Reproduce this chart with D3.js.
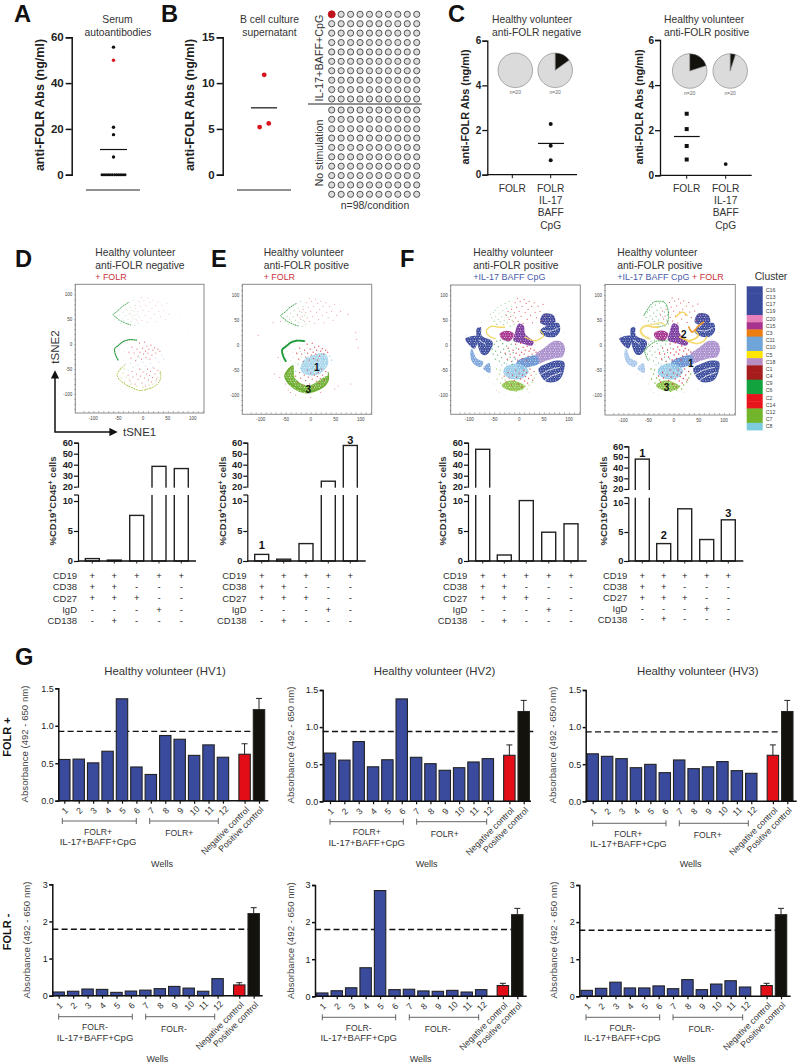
<!DOCTYPE html>
<meta charset="utf-8">
<head>
<style>
  body { margin: 0; background: #fff; }
  svg { display: block; font-family: "Liberation Sans", Arial, sans-serif; }
</style>
<script src="https://d3js.org/d3.v7.min.js"></script>
</head>
<body>
<div id="figure"></div>
<script>
// ---------- values ----------

// A
var serumBlack = [[0, 55.7], [0, 20.7], [0, 17.5], [0, 7.7]];
var serumRed = [[0, 50]];
var serumZeros = [-1, -0.82, -0.64, -0.46, -0.28, -0.1, 0.1, 0.28, 0.46, 0.64, 0.82, 1];
var serumMean = 11;

// B
var cultureRed = [[0, 10.9], [0.35, 5.6], [-0.35, 5.2]];
var cultureMean = 7.3;

// C
var negFolrStim = [2.27, 1.3, 0.65];
var negMean = 1.4;
var posFolr = [2.73, 2.05, 1.3, 0.7];
var posMean = 1.72;
var posFolrStim = [0.5];
var pieNegA = [0, 20], pieNegB = [3, 17], piePosA = [4, 16], piePosB = [1, 19];

// D-F bars
var barsD = [0.4, 0.15, 7.6, 38.5, 36.5];
var barsE = [1.1, 0.3, 2.9, 25, 57.5];
var barsF1 = [54, 1.0, 10.3, 4.8, 6.2];
var barsF2 = [48, 3, 9, 3.7, 7.1];
var markerNames = ["CD19", "CD38", "CD27", "IgD", "CD138"];
var markerRows = [
  ["+", "+", "+", "+", "+"],
  ["+", "+", "-", "-", "-"],
  ["+", "+", "+", "-", "-"],
  ["-", "-", "-", "+", "-"],
  ["-", "+", "-", "-", "-"]
];

// cluster legend
var clusterNames = ["C16","C13","C17","C19","C20","C15","C3","C11","C10","C5","C18","C1","C4","C9","C6","C2","C14","C12","C7","C8"];
var clusterColors = ["#3a4a9c","#3a4a9c","#3a4a9c","#3a4a9c","#e77fb8","#a8338f","#ee7d11","#6fa5d8","#6fa5d8","#ffe600","#b58fc4","#a61c1c","#a61c1c","#13a33e","#13a33e","#e8141c","#e8141c","#72b52b","#72b52b","#7ccbdf"];

// tSNE regions, traced by eye (tSNE1, tSNE2)
var navyLeaf = [[-108,13],[-82,18],[-84,4],[-90,-7]];
var navyLeft = [[-85,33],[-77,36],[-75,19],[-55,9],[-53,1],[-65,-19],[-74,-19],[-82,-4],[-85,16]];
var paleStrip = [[-95,-7],[-85,-27],[-72,-34],[-77,-44],[-92,-37],[-98,-21]];
var paleWedge = [[-60,-36],[-58,-56],[-72,-47]];
var navyTopA = [[49,63],[69,60],[72,43],[56,39],[42,46]];
var navyTopB = [[45,33],[62,41],[79,44],[82,29],[72,17],[55,17],[42,26]];
var navyLow = [[39,-47],[56,-37],[76,-31],[90,-34],[89,-54],[79,-71],[56,-74],[45,-64]];
var purpleMid = [[-1,43],[9,39],[12,23],[29,6],[25,-1],[5,4],[-11,9],[-8,26]];
var magentaLeft = [[-39,23],[-25,29],[-11,23],[-19,8],[-35,13]];
var purpleRight = [[32,-21],[52,-4],[69,8],[86,6],[92,-7],[86,-24],[69,-27],[52,-32],[39,-37]];
var blueBand = [[-5,-34],[15,-24],[34,-21],[39,-37],[19,-44],[-1,-47]];
var skyCentre = [[-28,-44],[-1,-37],[19,-52],[5,-67],[-18,-67],[-31,-57]];
var limeBottom = [[-35,-81],[-18,-71],[5,-77],[12,-84],[-5,-92],[-25,-89]];
var skyE = [[-18,-37],[-5,-24],[29,-17],[35,-37],[19,-57],[-1,-61],[-18,-54]];
var limeE = [[-45,-47],[-35,-41],[-31,-67],[-5,-81],[35,-61],[29,-81],[-5,-97],[-35,-87],[-51,-67]];

// arcs drawn as dotted strands
var greenTopArc = [[-30,83],[-42,75],[-53,65],[-60,59],[-52,52],[-47,48],[-35,42],[-23,38]];
var greenTopRing = [[-59,59],[-39,86],[-16,83],[-13,43],[-32,36]];
var greenMidArc = [[-13,8],[-27,9],[-40,5],[-50,-3],[-57,-9],[-55,-22],[-50,-32]];
var limeLowArc = [[-37,-42],[-47,-52],[-52,-62],[-45,-74],[-33,-82],[-20,-88],[-7,-93],[10,-90],[27,-82],[35,-70],[35,-55]];
var yellowArcL = [[-48,13],[-61,19],[-66,29],[-55,38],[-41,36],[-28,36]];
var yellowArcL2 = [[-52,13],[-64,26],[-62,36],[-42,41],[-24,44],[-16,39]];
var yellowArcM = [[12,16],[32,9],[49,19],[42,29]];
var yellowRing = [[27,8],[47,3],[60,8],[66,16]];
var yellowTop = [[4,56],[17,66],[27,59]];
var orangeArc = [[30,36],[37,26],[50,39],[60,46]];
// pale channels through the dense regions
var channelLowA = [[42,-60],[60,-50],[80,-45]];
var channelLowB = [[50,-72],[65,-62],[85,-55]];
var channelTop = [[48,30],[62,28],[78,34]];
var channelLeft = [[-80,10],[-68,2]];

// sparse event clouds
var cloudTopGreen = [[-58,62],[-55,55],[-52,66],[-50,48],[-48,70],[-47,58],[-45,42],[-43,76],[-42,52],[-40,64],[-38,47],[-36,80],[-35,57],[-33,70],[-31,41],[-30,50],[-28,84],[-27,62],[-25,74],[-24,45],[-22,56],[-20,88],[-18,66],[-17,38],[-15,78],[-14,50],[-12,60],[-10,42]];
var cloudTopRed = [[-26,60],[-22,68],[-20,52],[-17,58],[-15,72],[-12,47],[-10,65],[-8,85],[-7,55],[-5,76],[-3,94],[-2,48],[0,68],[2,88],[4,58],[6,78],[8,44],[10,92],[12,66],[14,84],[16,52],[18,72],[20,88],[23,60],[25,78],[27,45],[30,85],[32,66],[35,55],[38,78],[42,68],[45,50],[48,82],[52,60]];
var cloudMidGreen = [[-54,-8],[-52,-18],[-50,2],[-48,-28],[-47,-12],[-45,8],[-43,-20],[-42,-3],[-40,-32],[-38,10],[-37,-14],[-35,-25],[-33,3],[-31,-8],[-30,-36],[-28,12],[-27,-19],[-25,-2],[-23,-30],[-22,8],[-20,-12],[-18,-24],[-16,2],[-14,-38],[-12,-15],[-10,10],[-8,-28],[-6,-6]];
var cloudMidRed = [[-28,-16],[-24,-28],[-22,-6],[-18,-18],[-15,-33],[-12,-10],[-10,-24],[-7,2],[-6,-16],[-3,-30],[-1,-8],[1,-20],[3,4],[5,-14],[6,-27],[8,-4],[10,-18],[12,-10],[14,-30],[16,-2],[18,-22],[20,-12],[23,-7],[26,-18],[30,-10],[34,-14]];
var cloudLowRed = [[-30,-62],[-26,-74],[-22,-55],[-20,-66],[-16,-80],[-13,-60],[-10,-71],[-7,-50],[-5,-64],[-2,-78],[0,-56],[3,-68],[5,-84],[7,-60],[9,-50],[11,-72],[13,-63],[15,-55],[17,-76],[19,-67],[22,-48],[24,-60],[27,-70],[30,-53]];
var cloudLowLime = [[-45,-48],[-40,-58],[-44,-68],[-37,-76],[-34,-66],[-30,-84],[-28,-70],[-24,-80],[-18,-90],[-12,-84],[-6,-93],[0,-86],[6,-90],[12,-82],[20,-80],[26,-74],[30,-66],[34,-58],[-38,-50],[16,-88]];
var cloudSky = [[-35,-40],[-30,-52],[-25,-38],[-20,-46],[-14,-32],[-10,-42],[-5,-50],[0,-36],[5,-44],[10,-30],[14,-38],[20,-46],[26,-28],[32,-36],[38,-22],[42,-30],[-8,-26]];
var cloudFar = [[-105,20],[-72,-58],[-62,-65],[-50,-78],[-45,-90],[-65,-25],[55,-82],[48,-88],[95,-5],[92,12],[80,-78],[60,68],[75,62],[90,25],[-30,-100],[0,-105],[-75,45],[-60,48],[-40,-95],[20,-95]];

var tsne1Ticks = [-100, -50, 0, 50, 100], tsne2Ticks = [100, 50, 0, -50, -100];
var tsneTickLabels = ["-100", "-50", "0", "50", "100"];

// G wells
var wellPositions = [1,2,3,4,5,6,7,8,9,10,11,12,13.5,14.5];
var wellLabels = ["1","2","3","4","5","6","7","8","9","10","11","12","Negative control","Positive control"];
var hv1Plus = [0.55,0.555,0.505,0.66,1.36,0.45,0.35,0.87,0.82,0.605,0.745,0.58,0.62,1.215];
var hv2Plus = [0.65,0.555,0.805,0.465,0.56,1.38,0.593,0.507,0.418,0.453,0.53,0.575,0.62,1.21];
var hv3Plus = [0.64,0.606,0.575,0.453,0.498,0.386,0.557,0.44,0.465,0.535,0.413,0.377,0.62,1.21];
var hv1Minus = [0.1,0.12,0.18,0.17,0.09,0.125,0.15,0.19,0.25,0.205,0.12,0.46,0.29,2.21];
var hv2Minus = [0.09,0.15,0.23,0.77,2.85,0.18,0.19,0.145,0.135,0.16,0.115,0.18,0.29,2.2];
var hv3Minus = [0.16,0.215,0.38,0.225,0.225,0.28,0.205,0.45,0.18,0.33,0.42,0.25,0.29,2.2];
var plusErrorTops = [1.365, 1.36, 1.36], minusErrorTops = [2.37, 2.37, 2.37];
var plusNegErrors = [0.76, 0.76, 0.76], minusNegErrors = [0.35, 0.35, 0.35];
var plusCutoffs = [0.925, 0.94, 0.935], minusCutoffs = [1.79, 1.8, 1.78];

// ---------- page ----------
var svg = d3.select("#figure").append("svg").attr("width", 798).attr("height", 1064);
var textColor = "#333";

var defs = svg.append("defs");
var speckle = defs.append("pattern").attr("id", "speckle").attr("width", 5).attr("height", 5)
  .attr("patternUnits", "userSpaceOnUse");
[[0.7,0.8,0.5],[3.1,0.5,0.42],[1.9,2.2,0.46],[4.3,2.6,0.5],[0.6,3.9,0.42],[3,4.1,0.46]].forEach(function(d) {
  speckle.append("circle").attr("cx", d[0]).attr("cy", d[1]).attr("r", d[2]).attr("fill", "#fff");
});

function label(x, y, txt, size, opts) {
  opts = opts || {};
  var t = svg.append("text").attr("x", x).attr("y", y).text(txt)
    .style("font-size", size + "px")
    .style("fill", opts.color || textColor)
    .style("font-weight", opts.bold ? "bold" : "normal")
    .style("text-anchor", opts.anchor || "start");
  if (opts.rotate) t.attr("transform", "rotate(" + opts.rotate + "," + x + "," + y + ")");
  return t;
}

function styleAxis(g, width, size, bold) {
  g.selectAll("path,line").attr("stroke", "#111").attr("stroke-width", width);
  g.selectAll("text").style("font-size", size + "px").style("fill", "#222")
    .style("font-family", "'Liberation Sans', Arial, sans-serif")
    .style("font-weight", bold ? "bold" : "normal");
}

[["A",14,21.5],["B",161,21.5],["C",448,21.5],["D",15,267],["E",211,267],["F",400,267],["G",15,665]].forEach(function(d) {
  label(d[1], d[2], d[0], 23.7, {bold: true, color: "#111"});
});

// ---------- A, B dot plots ----------
function dotPanel(axisX, domainMax, ticks, baseX0, baseX1, cx, spread, meanX0, meanX1, mean) {
  var y = d3.scaleLinear().domain([0, domainMax]).range([174.7, 37.3]);
  var x = d3.scaleLinear().domain([-1, 1]).range([cx - spread, cx + spread]);
  var g = svg.append("g").attr("transform", "translate(" + axisX + ",0)")
    .call(d3.axisLeft(y).tickValues(ticks).tickFormat(d3.format("d")).tickSizeOuter(0).tickSize(6).tickPadding(2));
  styleAxis(g, 1.5, 11.5, true);
  svg.append("line").attr("x1", baseX0).attr("x2", baseX1).attr("y1", 190).attr("y2", 190).attr("stroke", "#222").attr("stroke-width", 1.2);
  svg.append("line").attr("x1", meanX0).attr("x2", meanX1).attr("y1", y(mean)).attr("y2", y(mean)).attr("stroke", "#111").attr("stroke-width", 1.2);
  return {x: x, y: y};
}

function dots(scales, data, color, r) {
  svg.append("g").selectAll("circle").data(data).enter().append("circle")
    .attr("cx", function(d) { return scales.x(d[0]); })
    .attr("cy", function(d) { return scales.y(d[1]); })
    .attr("r", r).attr("fill", color);
}

var aScales = dotPanel(71.7, 60, [0, 20, 40, 60], 86, 140, 113.5, 11.5, 100, 127, serumMean);
dots(aScales, serumBlack, "#111", 1.7);
dots(aScales, serumRed, "#d8141c", 1.7);
dots(aScales, serumZeros.map(function(d) { return [d, 0]; }), "#111", 1.5);
label(117.5, 22.5, "Serum", 10.3, {anchor: "middle"});
label(118, 35.5, "autoantibodies", 10.3, {anchor: "middle"});
label(43.5, 105, "anti-FOLR Abs (ng/ml)", 12.5, {bold: true, color: "#222", anchor: "middle", rotate: -90});

var bScales = dotPanel(222.7, 15, [0, 5, 10, 15], 237, 291, 264.2, 13, 251, 277, cultureMean);
dots(bScales, cultureRed, "#d8141c", 2.4);
label(269.5, 22.5, "B cell culture", 10.3, {anchor: "middle"});
label(269.5, 35.5, "supernatant", 10.3, {anchor: "middle"});
label(194, 105, "anti-FOLR Abs (ng/ml)", 12.5, {bold: true, color: "#222", anchor: "middle", rotate: -90});

// circle grid
var gridX = d3.scalePoint().domain(d3.range(10)).range([331.7, 416.7]);
var gridTop = d3.scalePoint().domain(d3.range(10)).range([14.3, 99]);
var gridLow = d3.scalePoint().domain(d3.range(10)).range([110, 194.3]);
[gridTop, gridLow].forEach(function(rowScale, block) {
  d3.range(10).forEach(function(r) {
    d3.range(10).forEach(function(c) {
      var hit = block === 0 && r === 0 && c === 0;
      svg.append("circle").attr("cx", gridX(c)).attr("cy", rowScale(r))
        .attr("r", hit ? 3.5 : 3.1)
        .attr("fill", hit ? "#c0141c" : "#dcdcdc")
        .attr("stroke", hit ? "#c0141c" : "#444").attr("stroke-width", 0.9);
    });
  });
});
svg.append("line").attr("x1", 308).attr("x2", 421.7).attr("y1", 104).attr("y2", 104).attr("stroke", "#222").attr("stroke-width", 1);
label(323, 58, "IL-17+BAFF+CpG", 10.8, {anchor: "middle", rotate: -90});
label(323, 153, "No stimulation", 10.5, {anchor: "middle", rotate: -90});
label(375, 209, "n=98/condition", 10.5, {anchor: "middle"});

// ---------- C ----------
function cPanel(axisX, xEnd, y6, y0, tick1, tick2, titleX, line2, yLabelX, pieA, pieB, pieY) {
  var y = d3.scaleLinear().domain([0, 6]).range([y0, y6]);
  var g = svg.append("g").attr("transform", "translate(" + axisX + ",0)")
    .call(d3.axisLeft(y).tickValues([0, 2, 4, 6]).tickFormat(d3.format("d")).tickSizeOuter(0).tickSize(5).tickPadding(1));
  styleAxis(g, 1.3, 10, true);
  svg.append("line").attr("x1", axisX).attr("x2", xEnd).attr("y1", y0).attr("y2", y0).attr("stroke", "#111").attr("stroke-width", 1.3);
  [tick1, tick2].forEach(function(t) {
    svg.append("line").attr("x1", t).attr("x2", t).attr("y1", y0).attr("y2", y0 + 3.5).attr("stroke", "#111").attr("stroke-width", 1);
  });
  label(titleX, 22.5, "Healthy volunteer", 10.3);
  label(titleX, 35.5, line2, 10.3);
  label(yLabelX, 107, "anti-FOLR Abs (ng/ml)", 10.9, {bold: true, color: "#222", anchor: "middle", rotate: -90});
  label(tick1, 192, "FOLR", 10.2, {anchor: "middle"});
  ["FOLR", "IL-17", "BAFF", "CpG"].forEach(function(s, i) {
    label(tick2, 192 + i * 12.2, s, 10.2, {anchor: "middle"});
  });
  var pie = d3.pie().sort(null);
  var arc = d3.arc().innerRadius(0).outerRadius(17.3);
  [[pieA, tick1 + 3], [pieB, tick2 + 4.5]].forEach(function(p) {
    var pg = svg.append("g").attr("transform", "translate(" + p[1] + "," + pieY + ")");
    pg.selectAll("path").data(pie(p[0])).enter().append("path").attr("d", arc)
      .attr("fill", function(d, i) { return i === 0 ? "#14120c" : "#dbdbdb"; })
      .attr("stroke", "#666").attr("stroke-width", 0.5);
    label(p[1], pieY + 24, "n=20", 5, {anchor: "middle", color: "#666"});
  });
  return y;
}

var c1 = cPanel(487.3, 577, 40.7, 174.7, 512.3, 550.7, 492, "anti-FOLR negative", 468.5, pieNegA, pieNegB, 70.3);
svg.append("g").selectAll("circle").data(negFolrStim).enter().append("circle")
  .attr("cx", 550.7).attr("cy", function(d) { return c1(d); }).attr("r", 2).attr("fill", "#111");
svg.append("line").attr("x1", 538).attr("x2", 564).attr("y1", c1(negMean)).attr("y2", c1(negMean)).attr("stroke", "#111").attr("stroke-width", 1.2);

var c2 = cPanel(660, 751.7, 40, 175.3, 686.7, 725.7, 664, "anti-FOLR positive", 642.5, piePosA, piePosB, 71);
svg.append("g").selectAll("rect").data(posFolr).enter().append("rect")
  .attr("x", 684.7).attr("width", 4).attr("height", 4)
  .attr("y", function(d) { return c2(d) - 2; }).attr("fill", "#111");
svg.append("g").selectAll("circle").data(posFolrStim).enter().append("circle")
  .attr("cx", 725.7).attr("cy", function(d) { return c2(d); }).attr("r", 1.9).attr("fill", "#111");
svg.append("line").attr("x1", 674).attr("x2", 699.7).attr("y1", c2(posMean)).attr("y2", c2(posMean)).attr("stroke", "#111").attr("stroke-width", 1.2);

// ---------- tSNE maps ----------
var lineGen = d3.line().curve(d3.curveCatmullRom);
var closedGen = d3.line().curve(d3.curveCatmullRomClosed);

function tsnePanel(box, xs, ys, layers, marks) {
  var x = d3.scaleLinear().domain([-100, 100]).range(xs);
  var y = d3.scaleLinear().domain([100, -100]).range(ys);
  var toPx = function(p) { return [x(p[0]), y(p[1])]; };
  var g = svg.append("g");
  (layers.blobs || []).forEach(function(b) {
    var d = closedGen(b[0].map(toPx));
    g.append("path").attr("d", d).attr("fill", b[1]).attr("opacity", b[2] || 1);
    g.append("path").attr("d", d).attr("fill", "url(#speckle)");
  });
  (layers.clouds || []).forEach(function(c) {
    g.append("g").selectAll("circle").data(c[0]).enter().append("circle")
      .attr("cx", function(d) { return x(d[0]); })
      .attr("cy", function(d) { return y(d[1]); })
      .attr("r", c[2]).attr("fill", c[1]).attr("opacity", c[3] || 1);
  });
  (layers.strands || []).forEach(function(t) {
    g.append("path").attr("d", lineGen(t[0].map(toPx))).attr("fill", "none")
      .attr("stroke", t[1]).attr("stroke-width", t[2])
      .attr("stroke-dasharray", t[3]).attr("stroke-linecap", "round");
  });
  svg.append("rect").attr("x", box[0]).attr("y", box[1]).attr("width", box[2] - box[0]).attr("height", box[3] - box[1])
    .attr("fill", "none").attr("stroke", "#8a8a8a").attr("stroke-width", 1);
  var xa = svg.append("g").attr("transform", "translate(0," + (box[3] - 0.5) + ")")
    .call(d3.axisTop(x).tickValues(d3.range(-120, 121, 10)).tickSize(1.5).tickFormat(""));
  xa.select(".domain").remove();
  xa.selectAll("line").attr("stroke", "#666").attr("stroke-width", 0.5);
  var ya = svg.append("g").attr("transform", "translate(" + (box[0] + 0.5) + ",0)")
    .call(d3.axisLeft(y).tickValues(d3.range(-130, 121, 10)).tickSize(1.5).tickFormat(""));
  ya.select(".domain").remove();
  ya.selectAll("line").attr("stroke", "#666").attr("stroke-width", 0.5);
  tsne1Ticks.forEach(function(v, i) {
    label(x(v), box[3] + 7, tsneTickLabels[i], 4.5, {anchor: "middle", color: "#444"});
  });
  tsne2Ticks.forEach(function(v, i) {
    label(box[0] - 3, y(v) + 1.5, tsneTickLabels[4 - i], 4.5, {anchor: "end", color: "#444"});
  });
  (marks || []).forEach(function(m) {
    label(x(m[1]), y(m[2]) + 3.5, m[0], 10, {bold: true, color: "#111", anchor: "middle"});
  });
}

var cGreen = "#2f9e44", cRed = "#d9323a", cSky = "#a9d4ea";

tsnePanel([75.3, 284.3, 204, 413], [93.3, 192.7], [294.3, 394], {
  clouds: [
    [cloudTopGreen, "#9ccf9c", 0.5, 0.7], [cloudTopRed, "#eaa3a9", 0.5, 0.75],
    [cloudMidGreen, "#f0c0c8", 0.45, 0.8], [cloudMidRed, cRed, 0.55, 0.75],
    [cloudLowRed, cRed, 0.55, 0.75], [cloudSky, cSky, 0.55, 0.9],
    [cloudLowLime, "#a5bf3c", 0.55, 0.8], [cloudFar, "#e0d8e0", 0.45, 0.8]
  ],
  strands: [
    [greenTopArc, cGreen, 0.9, "0.8 1.5"],
    [greenMidArc, cGreen, 1.2, "1 1.1"],
    [limeLowArc, "#a5bf3c", 1, "0.9 1.8"]
  ]
});

tsnePanel([242.3, 284.3, 371.7, 414.3], [260.7, 360.7], [295.3, 395], {
  blobs: [[skyE, "#8fc9e6", 0.75], [limeE, "#6cae2d", 0.95]],
  clouds: [
    [cloudTopGreen, "#7cbf7c", 0.5, 0.8], [cloudTopRed, cRed, 0.5, 0.6],
    [cloudMidGreen, "#bfe0c0", 0.5], [cloudMidRed, cRed, 0.6], [cloudLowRed, cRed, 0.6],
    [cloudSky, "#6fbfe0", 0.6], [cloudFar, cRed, 0.5, 0.7]
  ],
  strands: [
    [greenTopArc, cGreen, 0.9, "0.8 1.5"],
    [greenMidArc, "#1f9a3a", 1.9, "1.4 0.7"],
    [limeLowArc, "#64a826", 1.2, "1.1 1"]
  ]
}, [["1", 12, -44], ["3", -5, -89]]);

function fullBlobs(paleColor) {
  return [
    [navyLeaf, "#3a4a9c"], [navyLeft, "#3a4a9c"], [paleStrip, paleColor], [paleWedge, paleColor],
    [navyTopA, "#41479a"], [navyTopB, "#3a4a9c"], [navyLow, "#3a4a9c"], [purpleMid, "#7a3a9f"],
    [magentaLeft, "#a8338f"], [purpleRight, "#a98fcc"], [blueBand, "#6690d0"],
    [skyCentre, "#8ac3e4", 0.85], [limeBottom, "#84bf3a", 0.9]
  ];
}
var channels = [
  [channelLowA, "#fff", 0.9, "2.2 1"], [channelLowB, "#fff", 0.9, "2.2 1"],
  [channelTop, "#fff", 0.8, "2 1"], [channelLeft, "#fff", 0.8, "2 1"]
];

tsnePanel([450.7, 285, 580.3, 414.3], [469.3, 569], [295.3, 395], {
  blobs: fullBlobs("#7fa6dc"),
  clouds: [
    [cloudTopGreen, "#8ccf8c", 0.6], [cloudTopRed, cRed, 0.55], [cloudMidGreen, cGreen, 0.55],
    [cloudMidRed, cRed, 0.65], [cloudLowRed, cRed, 0.65], [cloudLowLime, "#8cc63f", 0.6],
    [cloudSky, "#7fc4e4", 0.6], [cloudFar, "#c98ab0", 0.45, 0.6]
  ],
  strands: channels.concat([
    [yellowArcL, "#f3d65c", 1.3, "1 1"],
    [yellowArcM, "#f3d65c", 1.3, "1 1.2"]
  ])
});

tsnePanel([605, 284.5, 735.3, 415], [623.3, 724], [295, 395], {
  blobs: fullBlobs("#a9c8ea"),
  clouds: [
    [cloudTopGreen, "#5fb56f", 0.6], [cloudTopRed, cRed, 0.55], [cloudMidGreen, "#4fae63", 0.6],
    [cloudMidRed, cRed, 0.65], [cloudLowRed, cRed, 0.65], [cloudLowLime, "#72b52b", 0.7],
    [cloudSky, "#7fc4e4", 0.6], [cloudFar, "#c98ab0", 0.45, 0.6]
  ],
  strands: channels.concat([
    [greenTopRing, cGreen, 0.9, "0.8 1.3"],
    [greenMidArc, cGreen, 0.9, "0.8 1.3"],
    [yellowArcL, "#f6d86a", 1.7, "1.3 0.7"],
    [yellowArcL2, "#f5e08a", 1.5, "1.2 0.8"],
    [yellowArcM, "#f3cf52", 1.6, "1.3 0.7"],
    [yellowRing, "#f6dc70", 1.6, "1.3 0.7"],
    [yellowTop, "#f3cf52", 1.3, "1.1 0.9"],
    [orangeArc, "#ee9a30", 1.7, "1.4 0.8"]
  ])
}, [["1", 34, -37], ["2", 20, 21], ["3", -14, -85]]);

// panel headers above the maps
label(95.3, 256, "Healthy volunteer", 10.3);
label(95.3, 269, "anti-FOLR negative", 10.3);
label(95.3, 280, "+ FOLR", 8.9, {color: "#c8313a"});
label(263.7, 256, "Healthy volunteer", 10.3);
label(263.7, 269, "anti-FOLR positive", 10.3);
label(263.7, 280, "+ FOLR", 8.9, {color: "#c8313a"});
label(473.3, 256, "Healthy volunteer", 10.3);
label(473.3, 269, "anti-FOLR positive", 10.3);
label(473.3, 280, "+IL-17 BAFF CpG", 9, {color: "#4a5ca8"});
label(617.3, 256, "Healthy volunteer", 10.3);
label(617.3, 269, "anti-FOLR positive", 10.3);
var mixed = label(617.3, 280, "+IL-17 BAFF CpG", 9, {color: "#4a5ca8"});
mixed.append("tspan").text(" + FOLR").style("fill", "#c8313a");

// legend
label(771, 280, "Cluster", 10.3, {anchor: "middle"});
var legendY = d3.scaleBand().domain(clusterNames).range([286.3, 430]);
svg.append("g").selectAll("rect").data(clusterNames).enter().append("rect")
  .attr("x", 746.7).attr("width", 16)
  .attr("y", function(d) { return legendY(d); })
  .attr("height", legendY.bandwidth() + 0.4)
  .attr("fill", function(d, i) { return clusterColors[i]; });
clusterNames.forEach(function(d) {
  label(765.7, legendY(d) + legendY.bandwidth() / 2 + 2, d, 5.3, {color: "#444"});
});

// tSNE arrows
defs.append("marker").attr("id", "arrow").attr("viewBox", "0 0 10 10").attr("refX", 8).attr("refY", 5)
  .attr("markerWidth", 5.5).attr("markerHeight", 5.5).attr("orient", "auto")
  .append("path").attr("d", "M0,0L10,5L0,10z").attr("fill", "#111");
defs.append("marker").attr("id", "arrow2").attr("viewBox", "0 0 10 10").attr("refX", 2).attr("refY", 5)
  .attr("markerWidth", 5.5).attr("markerHeight", 5.5).attr("orient", "auto")
  .append("path").attr("d", "M10,0L0,5L10,10z").attr("fill", "#111");
svg.append("path").attr("d", "M55,372V432H116").attr("fill", "none").attr("stroke", "#111").attr("stroke-width", 1.5)
  .attr("marker-start", "url(#arrow2)").attr("marker-end", "url(#arrow)");
label(59, 347, "tSNE2", 11.5, {anchor: "middle", rotate: -90});
label(123, 436, "tSNE1", 11.5);

// ---------- D-F broken bars ----------
function brokenBars(values, axisX, xEnd, centers, yRange, gapBottom, labelX, rowStep, yLabelX, notes) {
  var y = d3.scaleLinear().domain([0, 10, 20, 60]).range(yRange);
  var x = d3.scaleOrdinal().domain(d3.range(5)).range(centers);
  var g = svg.append("g");
  g.selectAll("rect").data(values).enter().append("rect")
    .attr("x", function(d, i) { return x(i) - 7; }).attr("width", 14)
    .attr("y", function(d) { return y(d); })
    .attr("height", function(d) { return yRange[0] - y(d); })
    .attr("fill", "#fff").attr("stroke", "#222").attr("stroke-width", 1.4);
  var ax = svg.append("g").attr("transform", "translate(" + axisX + ",0)")
    .call(d3.axisLeft(y).tickValues([0, 5, 10, 20, 30, 40, 50, 60]).tickFormat(d3.format("d")).tickSizeOuter(0).tickSize(4).tickPadding(1));
  styleAxis(ax, 1.2, 9.3, true);
  // white strip = the axis break
  svg.append("rect").attr("x", axisX - 1.5).attr("y", yRange[2] + 1).attr("width", xEnd - axisX + 1.5)
    .attr("height", gapBottom - yRange[2] - 1).attr("fill", "#fff");
  svg.append("line").attr("x1", axisX - 4).attr("x2", axisX + 0.6).attr("y1", gapBottom).attr("y2", gapBottom).attr("stroke", "#111").attr("stroke-width", 1.2);
  svg.append("line").attr("x1", axisX).attr("x2", xEnd).attr("y1", yRange[0]).attr("y2", yRange[0]).attr("stroke", "#111").attr("stroke-width", 1.3);
  centers.forEach(function(c) {
    svg.append("line").attr("x1", c).attr("x2", c).attr("y1", yRange[0]).attr("y2", yRange[0] + 2.5).attr("stroke", "#222").attr("stroke-width", 1);
  });
  markerNames.forEach(function(name, r) {
    var ty = 579 + r * rowStep;
    label(labelX, ty, name, 9.5, {anchor: "end"});
    markerRows[r].forEach(function(s, c) {
      label(centers[c], ty - 0.2, s, 9.5, {anchor: "middle", color: "#222"});
    });
  });
  var yl = label(yLabelX, 501, "%CD19", 9.5, {anchor: "middle", rotate: -90, bold: true, color: "#333"});
  yl.append("tspan").text("+").attr("dy", -3).style("font-size", "7px");
  yl.append("tspan").text("CD45").attr("dy", 3);
  yl.append("tspan").text("+").attr("dy", -3).style("font-size", "7px");
  yl.append("tspan").text(" cells").attr("dy", 3);
  (notes || []).forEach(function(n) {
    label(centers[n[1]], n[2], n[0], 11, {bold: true, color: "#111", anchor: "middle"});
  });
}

brokenBars(barsD, 78, 196, [92.3, 114.3, 136.7, 159, 181.3], [561, 501, 486.7, 442.7], 495, 77, 11.3, 56);
brokenBars(barsE, 247.3, 365.7, [261.7, 283.7, 306, 328.3, 350.3], [561, 501, 486.7, 442.7], 495, 246.5, 11.3, 225.5,
  [["1", 0, 549], ["3", 4, 444]]);
brokenBars(barsF1, 468, 586.7, [482.7, 504.3, 526.3, 548.7, 571], [561, 501, 486.7, 442.7], 495, 467.3, 11.3, 446);
brokenBars(barsF2, 628.3, 743.3, [642.3, 663.7, 684.7, 706.7, 728.3], [561, 503, 489, 446.3], 497.7, 627.3, 10.9, 607,
  [["1", 0, 457], ["2", 1, 539], ["3", 4, 517]]);

// ---------- G well plates ----------
function wellChart(cfg) {
  var y = d3.scaleLinear().domain([0, cfg.yMax]).range([cfg.y0, cfg.yTop]);
  var x = d3.scaleLinear().domain([1, 14.5]).range([cfg.x1, cfg.x14]);
  var g = svg.append("g");
  g.append("line").attr("x1", cfg.axisX).attr("x2", cfg.cutEnd).attr("y1", y(cfg.cutoff)).attr("y2", y(cfg.cutoff))
    .attr("stroke", "#111").attr("stroke-width", 1.4).attr("stroke-dasharray", "6 3.3");
  g.selectAll("rect").data(cfg.values).enter().append("rect")
    .attr("x", function(d, i) { return x(wellPositions[i]) - 5.7; }).attr("width", 11.4)
    .attr("y", function(d) { return y(d); })
    .attr("height", function(d) { return cfg.y0 - y(d); })
    .attr("fill", function(d, i) { return i < 12 ? "#3a4a9c" : (i === 12 ? "#e30d18" : "#14120c"); })
    .attr("stroke", "#222").attr("stroke-width", 1.1);
  [[12, cfg.negErr], [13, cfg.posErr]].forEach(function(e) {
    var cx = x(wellPositions[e[0]]);
    g.append("line").attr("x1", cx).attr("x2", cx).attr("y1", y(cfg.values[e[0]])).attr("y2", y(e[1])).attr("stroke", "#222").attr("stroke-width", 1);
    g.append("line").attr("x1", cx - 3).attr("x2", cx + 3).attr("y1", y(e[1])).attr("y2", y(e[1])).attr("stroke", "#222").attr("stroke-width", 1);
  });
  var ax = svg.append("g").attr("transform", "translate(" + cfg.axisX + ",0)")
    .call(d3.axisLeft(y).tickValues(cfg.ticks).tickFormat(d3.format(cfg.fmt)).tickSizeOuter(0).tickSize(3).tickPadding(1.5));
  styleAxis(ax, 1.5, 9, false);
  var bx = svg.append("g").attr("transform", "translate(0," + cfg.y0 + ")")
    .call(d3.axisBottom(x).tickValues(wellPositions).tickSize(3).tickFormat(function(d, i) { return wellLabels[i]; }));
  bx.select(".domain").remove();
  styleAxis(bx, 1.2, 8.8, false);
  bx.selectAll("text")
    .style("text-anchor", function(d, i) { return i < 12 ? "middle" : "end"; })
    .style("fill", "#333")
    .attr("y", 0).attr("dy", "0.35em")
    .attr("transform", function(d, i) {
      return i < 12 ? "translate(0,10) rotate(-45)" : "translate(2.5,7.5) rotate(-45)";
    });
  svg.append("line").attr("x1", cfg.axisX).attr("x2", cfg.xEnd).attr("y1", cfg.y0).attr("y2", cfg.y0).attr("stroke", "#111").attr("stroke-width", 1.5);
  // bracket groups
  cfg.brackets.forEach(function(b) {
    svg.append("path").attr("d", "M" + b[0] + "," + (cfg.bracketY - 3) + "v6M" + b[0] + "," + cfg.bracketY + "H" + b[1] + "M" + b[1] + "," + (cfg.bracketY - 3) + "v6")
      .attr("fill", "none").attr("stroke", "#555").attr("stroke-width", 0.9);
  });
  label(cfg.text1, cfg.bracketY + 13.5, cfg.tag, 8.6, {anchor: "middle"});
  label(cfg.text1, cfg.bracketY + 24, "IL-17+BAFF+CpG", 9.5, {anchor: "middle"});
  label(cfg.text2, cfg.bracketY + 15, cfg.tag, 8.6, {anchor: "middle"});
  label(cfg.wellsX, cfg.wellsY, "Wells", 9, {anchor: "middle"});
  label(cfg.yLabelX, cfg.yLabelY, "Absorbance (492 - 650 nm)", 9.6, {anchor: "middle", rotate: -90, color: "#444"});
}

var plusDefaults = {yMax: 1.5, ticks: [0, 0.5, 1, 1.5], fmt: ".1f", tag: "FOLR+", wellsY: 867};
var minusDefaults = {yMax: 3, ticks: [0, 1, 2, 3], fmt: "d", tag: "FOLR-", wellsY: 1062};

wellChart(Object.assign({}, plusDefaults, {values: hv1Plus, cutoff: plusCutoffs[0], negErr: plusNegErrors[0], posErr: plusErrorTops[0],
  axisX: 58.3, xEnd: 268.3, cutEnd: 254, y0: 800.7, yTop: 688.3, x1: 64.3, x14: 259,
  bracketY: 821, brackets: [[62.3, 136.3], [149.7, 218.3]], text1: 98, text2: 179.3, wellsX: 162, yLabelX: 28, yLabelY: 744}));
wellChart(Object.assign({}, plusDefaults, {values: hv2Plus, cutoff: plusCutoffs[1], negErr: plusNegErrors[1], posErr: plusErrorTops[1],
  axisX: 322.7, xEnd: 531, cutEnd: 534, y0: 801.3, yTop: 690, x1: 330, x14: 523.7,
  bracketY: 821.7, brackets: [[330, 403.3], [416.7, 486.7]], text1: 366.7, text2: 444.7, wellsX: 426.7, yLabelX: 294, yLabelY: 745}));
wellChart(Object.assign({}, plusDefaults, {values: hv3Plus, cutoff: plusCutoffs[2], negErr: plusNegErrors[2], posErr: plusErrorTops[2],
  axisX: 585.7, xEnd: 796.7, cutEnd: 782, y0: 801.3, yTop: 690, x1: 592.7, x14: 787.3,
  bracketY: 823.3, brackets: [[592.7, 666], [679.3, 748.3]], text1: 628.3, text2: 707.7, wellsX: 690.7, yLabelX: 555.7, yLabelY: 745}));
wellChart(Object.assign({}, minusDefaults, {values: hv1Minus, cutoff: minusCutoffs[0], negErr: minusNegErrors[0], posErr: minusErrorTops[0],
  axisX: 52.3, xEnd: 262.7, cutEnd: 248, y0: 995.7, yTop: 884.3, x1: 58.7, x14: 253.7,
  bracketY: 1016.7, brackets: [[58.7, 132.3], [145.7, 214.7]], text1: 95, text2: 174, wellsX: 157.3, yLabelX: 29.5, yLabelY: 940}));
wellChart(Object.assign({}, minusDefaults, {values: hv2Minus, cutoff: minusCutoffs[1], negErr: minusNegErrors[1], posErr: minusErrorTops[1],
  axisX: 315, xEnd: 526.7, cutEnd: 512, y0: 996.3, yTop: 885, x1: 322.3, x14: 517.3,
  bracketY: 1017.3, brackets: [[322.3, 395.7], [409.3, 478.7]], text1: 358.7, text2: 437.7, wellsX: 420.7, yLabelX: 293.7, yLabelY: 940.7}));
wellChart(Object.assign({}, minusDefaults, {values: hv3Minus, cutoff: minusCutoffs[2], negErr: minusNegErrors[2], posErr: minusErrorTops[2],
  axisX: 579.3, xEnd: 790.7, cutEnd: 776, y0: 996.3, yTop: 885, x1: 586.7, x14: 781,
  bracketY: 1017.3, brackets: [[586, 659.7], [673, 742.7]], text1: 622.3, text2: 701.3, wellsX: 684.3, yLabelX: 557, yLabelY: 940}));

label(165, 675, "Healthy volunteer (HV1)", 11.4, {anchor: "middle"});
label(434.5, 675, "Healthy volunteer (HV2)", 11.4, {anchor: "middle"});
label(697.7, 675, "Healthy volunteer (HV3)", 11.4, {anchor: "middle"});
label(11, 737, "FOLR +", 11, {bold: true, color: "#111", anchor: "middle", rotate: -90});
label(11, 932, "FOLR -", 11, {bold: true, color: "#111", anchor: "middle", rotate: -90});
</script>
</body>
